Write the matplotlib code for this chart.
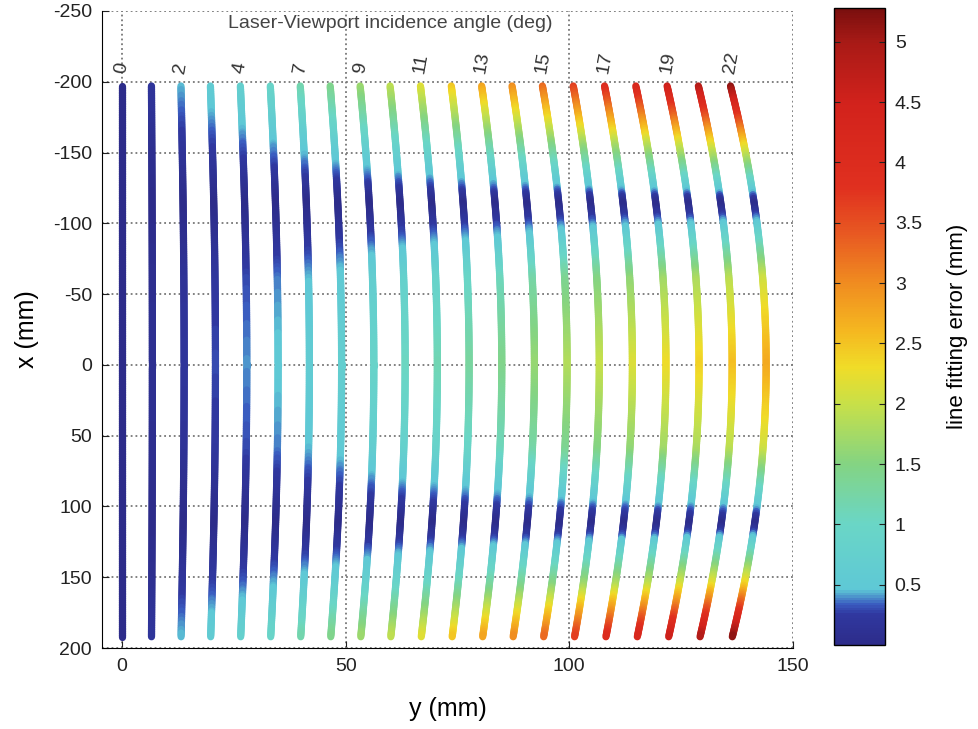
import numpy as np
import matplotlib.pyplot as plt
from matplotlib.collections import LineCollection
from matplotlib.colors import LinearSegmentedColormap, Normalize

plt.rcParams['font.family'] = ['Liberation Sans', 'DejaVu Sans']
plt.rcParams['axes.unicode_minus'] = False

# lateral position of each laser line at its ends (mm)
line_y0 = [0, 6.6, 13.2, 19.8, 26.5, 33.2, 39.9, 46.6, 53.3, 60.0, 66.8,
           73.7, 80.5, 87.3, 94.1, 101.0, 108.0, 115.0, 122.0, 129.0, 136.2]
# bow of each line at x = 0 (mm)
line_bulge = [0, 0.2, 0.7, 1.1, 1.4, 1.7, 2.0, 2.5, 3.0, 3.3, 3.7,
              3.9, 4.4, 4.9, 5.4, 5.7, 6.1, 6.6, 7.0, 7.4, 7.8]
# fitting error at the line ends and at the middle (mm)
err_end = [0.02, 0.2, 0.45, 0.6, 0.75, 0.95, 1.2, 1.45, 1.7, 1.95, 2.2,
           2.5, 2.8, 3.0, 3.3, 3.7, 4.0, 4.25, 4.6, 4.9, 5.2]
err_mid = [0.02, 0.1, 0.2, 0.3, 0.4, 0.5, 0.6, 0.7, 0.9, 1.05, 1.15,
           1.3, 1.45, 1.65, 1.85, 2.0, 2.15, 2.3, 2.4, 2.55, 2.75]
# error profile along a line
prof_x = [-197, -155, -113, -60, 0, 60, 113, 155, 192]
prof_end = [1.0, 0.45, 0.0, 0.0, 0.0, 0.0, 0.0, 0.45, 1.0]
prof_mid = [0.0, 0.0, 0.0, 0.75, 1.0, 0.75, 0.0, 0.0, 0.0]

angle_labels = ['0', '2', '4', '7', '9', '11', '13', '15', '17', '19', '22']
angle_pos = [0, 13.2, 26.5, 39.9, 53.3, 66.8, 80.5, 94.1, 108.0, 122.0, 136.2]

cmap_stops = [0.0, 0.25, 0.33, 0.45, 1.0, 1.5, 2.0, 2.3, 2.6, 3.0, 3.4, 3.8,
              4.5, 5.0, 5.28]
cmap_colors = ['#2d2c8a', '#3038a0', '#3a5cc0', '#5ec8d6', '#6ad6c6', '#84d482',
               '#c8e048', '#f0dc28', '#f5b820', '#f08c20', '#e85a22', '#e0301f',
               '#d2221c', '#a81a16', '#7a0f0e']
vmax = cmap_stops[-1]
jetlike = LinearSegmentedColormap.from_list(
    'err', [(s / vmax, c) for s, c in zip(cmap_stops, cmap_colors)])
norm = Normalize(0, vmax)

fig = plt.figure(figsize=(9.79, 7.29), dpi=100)
ax = fig.add_axes([0.104, 0.111, 0.706, 0.874])

segs = []
vals = []
xs = np.linspace(prof_x[0], prof_x[-1], 300)
t = xs / 195.0
for y0, b, ee, em in zip(line_y0, line_bulge, err_end, err_mid):
    ys = y0 + b * (1 - t ** 2)
    err = ee * np.interp(xs, prof_x, prof_end) + em * np.interp(xs, prof_x, prof_mid)
    pts = np.column_stack([ys, xs])
    segs.extend(np.stack([pts[:-1], pts[1:]], axis=1))
    vals.extend(0.5 * (err[:-1] + err[1:]))

lc = LineCollection(segs, cmap=jetlike, norm=norm, linewidths=5.2,
                    capstyle='round', zorder=3)
lc.set_array(np.array(vals))
ax.add_collection(lc)

ax.set_xlim(-4.5, 150)
ax.set_ylim(200, -250)
ax.set_xticks([0, 50, 100, 150])
ax.set_yticks(np.arange(-250, 201, 50))
ax.grid(True, linestyle=':', color='#777777', linewidth=1.3, zorder=0)
ax.spines['top'].set_visible(False)
ax.spines['right'].set_visible(False)
ax.tick_params(direction='in', labelsize=14, colors='#222222', length=5, pad=7)
ax.set_xlabel('y (mm)', fontsize=18, labelpad=16)
ax.set_ylabel('x (mm)', fontsize=18, labelpad=10)

ax.text(60, -241, 'Laser-Viewport incidence angle (deg)', ha='center',
        va='center', fontsize=14, color='#444444')
for lab, yp in zip(angle_labels, angle_pos):
    ax.text(yp, -205, lab, rotation=80, ha='center', va='bottom',
            fontsize=14, color='#333333')

cax = fig.add_axes([0.852, 0.115, 0.052, 0.874])
sm = plt.cm.ScalarMappable(cmap=jetlike, norm=norm)
cb = fig.colorbar(sm, cax=cax, ticks=np.arange(0.5, 5.01, 0.5))
cb.ax.set_yticklabels(['0.5', '1', '1.5', '2', '2.5', '3', '3.5', '4', '4.5', '5'])
cb.ax.tick_params(direction='in', left=True, right=True, length=4,
                  labelsize=14, colors='#222222', pad=7)
cb.set_label('line fitting error (mm)', fontsize=16, labelpad=18)
cb.outline.set_linewidth(1.0)

fig.savefig('out.png', dpi=100)
